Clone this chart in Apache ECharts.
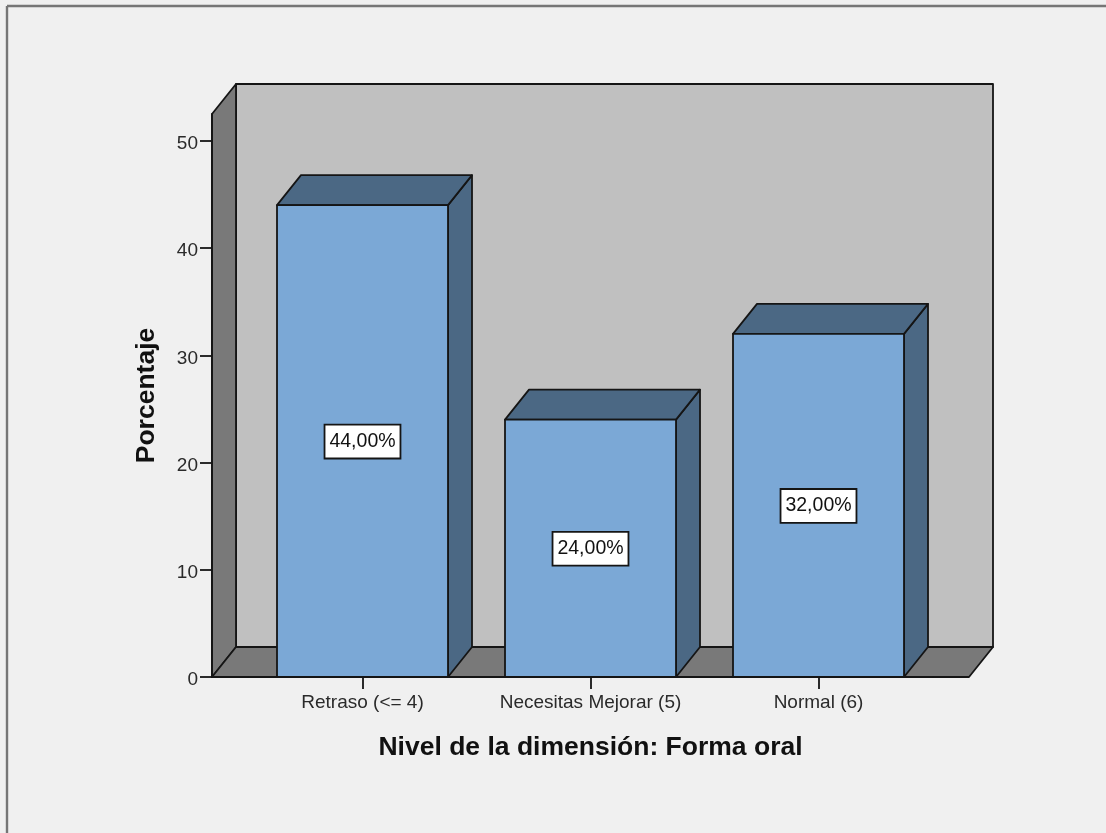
<!DOCTYPE html>
<html>
<head>
<meta charset="utf-8">
<style>html,body{margin:0;padding:0;background:#f0f0f0}#c{width:1106px;height:833px}</style>
<script src="https://cdn.jsdelivr.net/npm/echarts@6/dist/echarts.min.js"></script>
</head>
<body>
<div id="c"></div>
<script>
const categories = ['Retraso (<= 4)', 'Necesitas Mejorar (5)', 'Normal (6)'];
const percentages = [44, 24, 32];
const valueLabels = ['44,00%', '24,00%', '32,00%'];
const yTicks = [0, 10, 20, 30, 40, 50];
const yAxisTop = 52.5;
const xTitle = 'Nivel de la dimensión: Forma oral';
const yTitle = 'Porcentaje';

const DX = 24, DY = -30, PAD = 36.5, BAR_RATIO = 0.75;
const LINE = '#151515', LW = 1.8;
const FONT = '"Liberation Sans", Arial, sans-serif';
const stroke = fill => ({ fill, stroke: LINE, lineWidth: LW, lineJoin: 'round' });
const poly = (points, fill) => ({ type: 'polygon', shape: { points }, style: stroke(fill) });

const chart = echarts.init(document.getElementById('c'), null, { renderer: 'canvas' });

function renderWalls(params, api) {
  const band = api.size([1, 0])[0];
  const l = api.coord([0, 0])[0] - band / 2 - PAD;
  const r = api.coord([categories.length - 1, 0])[0] + band / 2 + PAD;
  const b = api.coord([0, 0])[1];
  const t = api.coord([0, yAxisTop])[1];
  return { type: 'group', silent: true, children: [
    poly([[l + DX, t + DY], [r + DX, t + DY], [r + DX, b + DY], [l + DX, b + DY]], '#c0c0c0'),
    poly([[l, t], [l + DX, t + DY], [l + DX, b + DY], [l, b]], '#797979'),
    poly([[l, b], [l + DX, b + DY], [r + DX, b + DY], [r, b]], '#797979')
  ]};
}

function renderBar(params, api) {
  const i = api.value(0);
  const v = api.value(1);
  const w = api.size([1, 0])[0] * BAR_RATIO;
  const c = api.coord([i, v]);
  const b = api.coord([i, 0])[1];
  const mid = api.coord([i, v / 2])[1];
  const l = c[0] - w / 2, r = c[0] + w / 2, t = c[1];
  return { type: 'group', children: [
    poly([[r, t], [r + DX, t + DY], [r + DX, b + DY], [r, b]], '#4b6884'),
    poly([[l, t], [l + DX, t + DY], [r + DX, t + DY], [r, t]], '#4b6884'),
    poly([[l, t], [r, t], [r, b], [l, b]], '#7ba8d6'),
    { type: 'text', z2: 10, style: {
      text: valueLabels[params.dataIndex], x: c[0], y: mid + 0.5, align: 'center', verticalAlign: 'middle',
      font: '19.5px ' + FONT, fill: '#111', backgroundColor: '#fff',
      borderColor: LINE, borderWidth: 1.8, padding: [6, 4, 6, 4]
    }}
  ]};
}

chart.setOption({
  animation: false,
  backgroundColor: '#f0f0f0',
  grid: { left: 248.5, width: 684, top: 114, height: 563 },
  graphic: [
    { type: 'line', shape: { x1: 7, y1: 6, x2: 1106, y2: 6 }, style: { stroke: '#767676', lineWidth: 2.4 } },
    { type: 'line', shape: { x1: 7, y1: 6, x2: 7, y2: 833 }, style: { stroke: '#767676', lineWidth: 2.4 } }
  ],
  xAxis: {
    type: 'category', data: categories, z: 5,
    axisLine: { show: true, lineStyle: { color: LINE, width: LW } },
    axisTick: { show: true, alignWithLabel: true, length: 12, lineStyle: { color: LINE, width: LW } },
    axisLabel: { interval: 0, margin: 16, fontFamily: FONT, fontSize: 19, color: '#2a2a2a' },
    name: xTitle, nameLocation: 'middle', nameGap: 57,
    nameTextStyle: { fontFamily: FONT, fontSize: 26.5, fontWeight: 'bold', color: '#111' }
  },
  yAxis: {
    type: 'value', min: 0, max: yAxisTop, interval: 10, offset: 36.5, z: 5,
    splitLine: { show: false },
    axisLine: { show: true, lineStyle: { color: LINE, width: LW } },
    axisTick: { show: true, length: 12, customValues: yTicks, lineStyle: { color: LINE, width: LW } },
    axisLabel: { customValues: yTicks, margin: 14, verticalAlign: 'top', lineHeight: 6, fontFamily: FONT, fontSize: 19, color: '#2a2a2a' },
    name: yTitle, nameLocation: 'middle', nameGap: 52,
    nameTextStyle: { fontFamily: FONT, fontSize: 26.5, fontWeight: 'bold', color: '#111' }
  },
  series: [
    { type: 'custom', name: 'walls', clip: false, z: 1, silent: true, data: [[0, 0]], renderItem: renderWalls },
    { type: 'custom', name: 'Porcentaje', clip: false, z: 2,
      data: percentages.map((v, i) => [i, v]), encode: { x: 0, y: 1 }, renderItem: renderBar }
  ]
});
</script>
</body>
</html>
